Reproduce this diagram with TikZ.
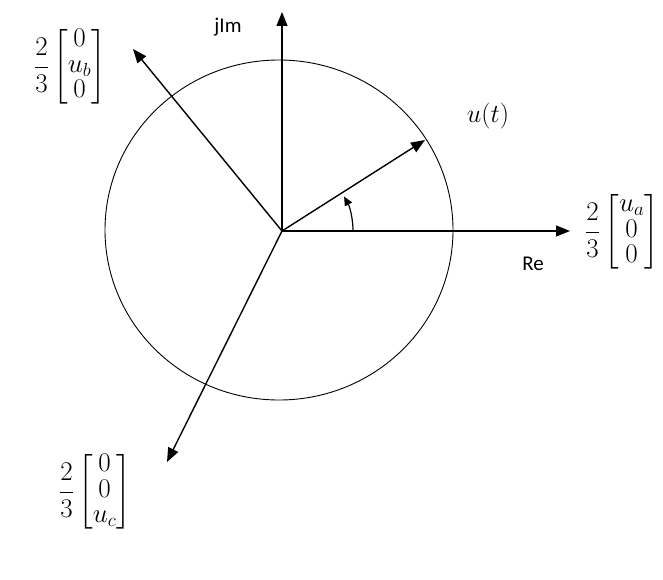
\RequirePackage{fix-cm}
\documentclass[tikz,border=0pt]{standalone}
\usepackage{amsmath}
\usepackage{fontspec}
\newfontfamily\labfont{Carlito}
\usetikzlibrary{arrows.meta}
\begin{document}
\begin{tikzpicture}[x=1pt,y=-1pt,
  vec/.style={line width=1.4pt,-{Triangle[length=14pt,width=11pt]}},
  axis/.style={line width=1.2pt,-{Triangle[length=14pt,width=11pt]}},
  circ/.style={line width=0.9pt},
  arcarrow/.style={line width=1.2pt,-{Triangle[length=9pt,width=8pt]}},
  mat/.style={inner sep=0pt,font=\fontsize{27}{28}\selectfont},
  axlab/.style={inner sep=0pt,font=\labfont\fontsize{21}{24}\selectfont},
  ulab/.style={inner sep=0pt,font=\fontsize{26}{30}\selectfont}]
\useasboundingbox (0,0) rectangle (663,580);
\coordinate (O) at (282,231);
\coordinate (C) at (279,230);
\coordinate (imtip) at (282,12);
\coordinate (retip) at (570,231);
\coordinate (utip) at (425,140);
\coordinate (ubtip) at (133,49);
\coordinate (uctip) at (167,462);
\draw[circ] (C) ellipse [x radius=174, y radius=170];
\draw[axis] (O) -- (imtip);
\draw[axis] (O) -- (retip);
\draw[vec] (O) -- (utip);
\draw[vec] (O) -- (ubtip);
\draw[vec] (O) -- (uctip);
\draw[arcarrow] ([xshift=71pt]O) arc[start angle=0, end angle=-29, radius=71];
\node[axlab] (jim) at (228,27) {jIm};
\node[axlab] (re) at (533,264) {Re};
\node[ulab] (ut) at (488,116) {$u(t)$};
\renewcommand{\arraystretch}{0.9}
\node[mat] (ub) at (70,67) {$\displaystyle\frac{2}{3}\begin{bmatrix}0\\ u_b\\ 0\end{bmatrix}$};
\node[mat] (ua) at (622,232) {$\displaystyle\frac{2}{3}\begin{bmatrix}u_a\\ 0\\ 0\end{bmatrix}$};
\node[mat] (uc) at (95,492) {$\displaystyle\frac{2}{3}\begin{bmatrix}0\\ 0\\ u_c\end{bmatrix}$};
\end{tikzpicture}
\end{document}
